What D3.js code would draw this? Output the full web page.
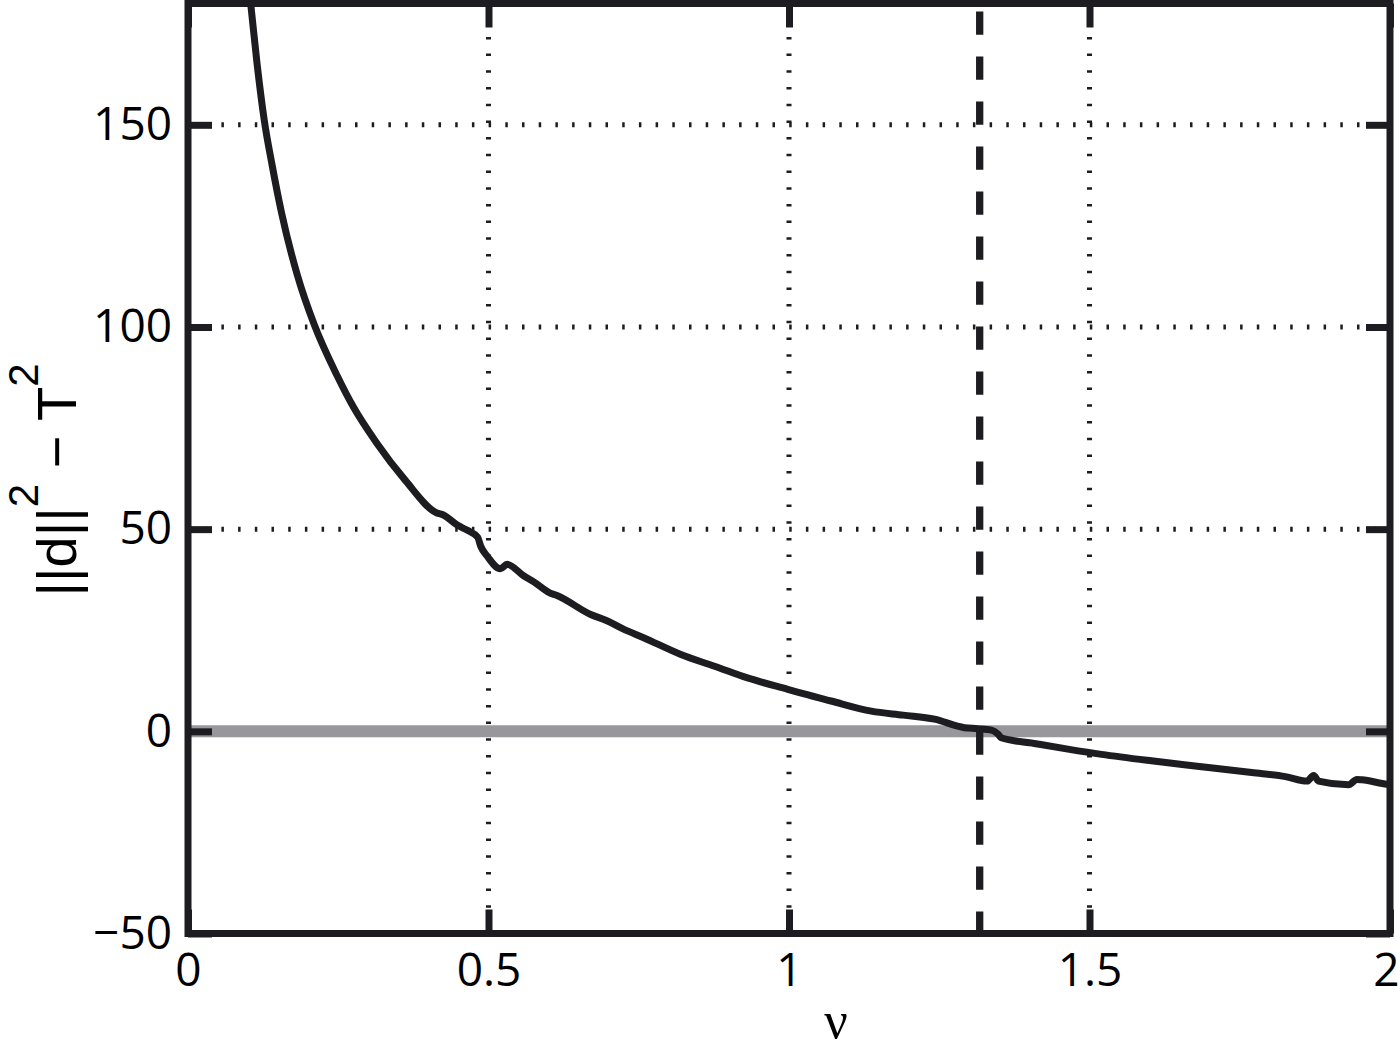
<!DOCTYPE html>
<html>
<head>
<meta charset="utf-8">
<script src="https://d3js.org/d3.v7.min.js"></script>
<style>
  body { margin: 0; background: #fff; }
  text { fill: #000; font-family: "Open Sans", sans-serif; }
  .grid line { stroke: #1d1d21; stroke-width: 5px; stroke-dasharray: 2.5 14.2; }
  .ticks line { stroke: #1d1d21; stroke-width: 7px; }
  .ticks path, .labels path, .labels line { display: none; }
</style>
</head>
<body>
<script>
// values
var nu = [0.100, 0.105, 0.115, 0.127, 0.140, 0.156, 0.182, 0.210, 0.248, 0.276,
          0.313, 0.362, 0.414, 0.425, 0.448, 0.465, 0.482, 0.487, 0.498, 0.520,
          0.531, 0.559, 0.576, 0.601, 0.614, 0.670, 0.698, 0.723, 0.759, 0.820,
          0.876, 0.931, 0.998, 1.070, 1.137, 1.190, 1.242, 1.292, 1.314, 1.337,
          1.348, 1.353, 1.408, 1.464, 1.520, 1.603, 1.690, 1.770, 1.826, 1.862,
          1.873, 1.881, 1.931, 1.945, 1.953, 1.995, 2.000];
var gap = [186, 179, 165, 151, 140, 128, 112.8, 100.6, 88, 80,
           71.5, 62.0, 54.0, 53.5, 51.0, 49.7, 48.0, 45.8, 43.3, 40.2,
           41.3, 38.4, 36.9, 34.3, 33.6, 28.9, 27.3, 25.4, 23.1, 19.0,
           16.1, 13.2, 10.4, 7.5, 5.0, 4.0, 3.0, 0.9, 0.66, 0.3,
           -0.74, -1.6, -3.0, -4.4, -5.7, -7.3, -8.8, -10.2, -11.2, -12.3,
           -10.9, -12.3, -13.2, -11.9, -12.0, -13.1, -13.2];
var xTicks = [0, 0.5, 1, 1.5, 2];
var yTicks = [-50, 0, 50, 100, 150];
var xGrid = [0.5, 1, 1.5];
var yGrid = [50, 100, 150];
var nuStar = 1.3173;   // dashed marker
var zeroLevel = 0;     // grey reference

var width = 1400, height = 1053;
var x = d3.scaleLinear().domain([0, 2]).range([188, 1390]);
var y = d3.scaleLinear().domain([-50, 180]).range([933.5, 3.5]);

var svg = d3.select("body").append("svg")
    .attr("width", width)
    .attr("height", height);

svg.append("clipPath").attr("id", "plot")
  .append("rect")
    .attr("x", x(0)).attr("y", y(180))
    .attr("width", x(2) - x(0)).attr("height", y(-50) - y(180));

// dotted grid
var grid = svg.append("g").attr("class", "grid");
grid.selectAll(".gx").data(xGrid).enter().append("line")
    .attr("x1", d => x(d)).attr("x2", d => x(d))
    .attr("y1", y(180)).attr("y2", y(-50));
grid.selectAll(".gy").data(yGrid).enter().append("line")
    .attr("y1", d => y(d)).attr("y2", d => y(d))
    .attr("x1", x(0)).attr("x2", x(2));

// grey zero line
svg.append("line")
    .attr("x1", x(0)).attr("x2", x(2))
    .attr("y1", y(zeroLevel)).attr("y2", y(zeroLevel))
    .style("stroke", "#98979c").style("stroke-width", 12);

// dashed vertical
svg.append("line")
    .attr("x1", x(nuStar)).attr("x2", x(nuStar))
    .attr("y1", y(180)).attr("y2", y(-50))
    .style("stroke", "#1d1d21").style("stroke-width", 7.3)
    .style("stroke-dasharray", "23.3 21.7")
    .style("stroke-dashoffset", 37);

// curve
var line = d3.line()
    .x((d, i) => x(nu[i]))
    .y(d => y(d))
    .curve(d3.curveMonotoneX);

svg.append("path")
    .datum(gap)
    .attr("clip-path", "url(#plot)")
    .attr("d", line)
    .style("fill", "none")
    .style("stroke", "#1d1d21")
    .style("stroke-width", 7)
    .style("stroke-linejoin", "round");

// inward ticks on all four sides
var tl = 24;
svg.append("g").attr("class", "ticks")
    .attr("transform", "translate(" + x(0) + ",0)")
    .call(d3.axisLeft(y).tickValues(yTicks).tickSize(-tl).tickFormat(""));
svg.append("g").attr("class", "ticks")
    .attr("transform", "translate(" + x(2) + ",0)")
    .call(d3.axisRight(y).tickValues(yTicks).tickSize(-tl).tickFormat(""));
svg.append("g").attr("class", "ticks")
    .attr("transform", "translate(0," + y(-50) + ")")
    .call(d3.axisBottom(x).tickValues(xTicks).tickSize(-tl).tickFormat(""));
svg.append("g").attr("class", "ticks")
    .attr("transform", "translate(0," + y(180) + ")")
    .call(d3.axisTop(x).tickValues(xTicks).tickSize(-tl).tickFormat(""));

// frame
svg.append("rect")
    .attr("x", x(0)).attr("y", y(180))
    .attr("width", x(2) - x(0)).attr("height", y(-50) - y(180))
    .style("fill", "none")
    .style("stroke", "#1d1d21")
    .style("stroke-width", 7);

// tick labels
var yl = svg.append("g").attr("class", "labels")
    .attr("transform", "translate(" + x(0) + ",0)")
    .call(d3.axisLeft(y).tickValues(yTicks).tickSize(0).tickPadding(16));
yl.selectAll("text").style("font-size", "46px").style("font-family", "Open Sans, sans-serif");

var xl = svg.append("g").attr("class", "labels")
    .attr("transform", "translate(0," + y(-50) + ")")
    .call(d3.axisBottom(x).tickValues(xTicks).tickSize(0).tickPadding(20)
        .tickFormat(d3.format("~g")));
xl.selectAll("text").style("font-size", "46px").style("font-family", "Open Sans, sans-serif")
    .attr("x", d => d === 2 ? -4 : 0);

// axis titles
svg.append("text")
    .attr("x", 836).attr("y", 1038)
    .attr("text-anchor", "middle")
    .style("font-family", "Liberation Serif, serif")
    .style("font-size", "52px")
    .text("\u03bd");

var yt = svg.append("text")
    .attr("transform", "translate(76,480) rotate(-90)")
    .attr("text-anchor", "middle")
    .style("font-size", "56px")
    .style("font-family", "Liberation Sans, sans-serif");
yt.append("tspan").text("||d||");
yt.append("tspan").attr("dy", -38).style("font-size", "42px").text("2");
yt.append("tspan").attr("dy", 38).text(" \u2212 T");
yt.append("tspan").attr("dy", -38).style("font-size", "42px").text("2");
</script>
</body>
</html>
